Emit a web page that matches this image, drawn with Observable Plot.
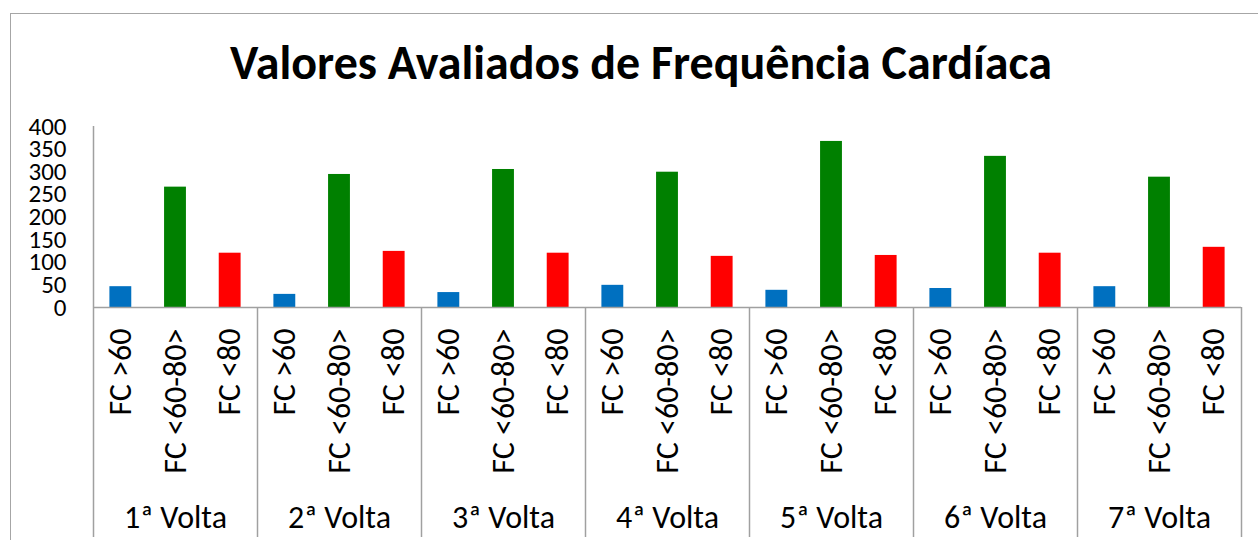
<!DOCTYPE html>
<html><head><meta charset="utf-8">
<script src="https://cdn.jsdelivr.net/npm/d3@7"></script>
<script src="https://cdn.jsdelivr.net/npm/@observablehq/plot@0.6"></script>
<style>
html,body{margin:0;padding:0;background:#fff;}
body{width:1258px;height:540px;overflow:hidden;position:relative;font-family:Carlito,Lato,sans-serif;}
#frame{position:absolute;left:10px;top:13px;width:1400px;height:700px;border-left:1.5px solid #a6a6a6;border-top:1.5px solid #a6a6a6;box-sizing:border-box;}
#title{position:absolute;left:0;width:1282px;top:39px;text-align:center;font-weight:bold;font-size:48px;line-height:48px;color:#000;white-space:nowrap;}
#chart{position:absolute;left:0;top:110px;}
</style>
</head><body>
<div id="frame"></div>
<div id="title">Valores Avaliados de Frequência Cardíaca</div>
<div id="chart"></div>
<script>
const groups = ["1ª Volta", "2ª Volta", "3ª Volta", "4ª Volta", "5ª Volta", "6ª Volta", "7ª Volta"];
const categories = ["FC >60", "FC <60-80>", "FC <80"];
const fcAbove60 = [46, 29, 33, 49, 38, 42, 46];
const fc60to80 = [266, 294, 305, 299, 367, 334, 288];
const fcBelow80 = [120, 124, 120, 113, 115, 120, 133];
const colors = ["#0070C0", "#008000", "#FF0000"];
const yTicks = [0, 50, 100, 150, 200, 250, 300, 350, 400];

const series = [fcAbove60, fc60to80, fcBelow80];
const rows = groups.flatMap((g, i) => categories.map((c, j) => ({group: g, category: c, key: g + "|" + c, value: series[j][i]})));
const keys = rows.map(d => d.key);
const firstKeys = groups.map(g => g + "|" + categories[0]);
const midKeys = groups.map(g => ({group: g, key: g + "|" + categories[1]}));
const lastKey = keys[keys.length - 1];

const W = 1258, H = 430, mL = 93, mR = 17, mT = 16, mB = 3;
const step = (W - mL - mR) / keys.length;
const gray = "#a0a0a0";
const font = "Carlito, Lato, sans-serif";

const chart = Plot.plot({
  width: W, height: H, marginTop: mT, marginBottom: mB, marginLeft: mL, marginRight: mR,
  style: {fontFamily: font, color: "#000", background: "transparent", overflow: "visible"},
  x: {domain: keys, paddingInner: 0.6, paddingOuter: 0.3, round: false, axis: null},
  y: {domain: [0, 400], range: [197, 16], axis: null},
  color: {domain: categories, range: colors},
  marks: [
    Plot.barY(rows, {x: "key", y: "value", fill: "category"}),
    Plot.ruleX([firstKeys[0]], {x: d => d, dx: -step / 2, stroke: gray, strokeWidth: 1.5}),
    Plot.ruleX(firstKeys.slice(1), {x: d => d, dx: -step / 2, insetTop: 181, stroke: gray, strokeWidth: 1.5}),
    Plot.ruleX([lastKey], {x: d => d, dx: step / 2, insetTop: 181, stroke: gray, strokeWidth: 1.5}),
    Plot.ruleY([0], {stroke: gray, strokeWidth: 1.5}),
    Plot.axisY({ticks: yTicks, label: null, tickSize: 0, tickPadding: 27, fontSize: 25, fill: "#000", fontFamily: font}),
    Plot.text(rows, {x: "key", y: 0, dy: 21, text: "category", rotate: -90, textAnchor: "end", lineAnchor: "middle", fontSize: 32, fill: "#000", fontFamily: font}),
    Plot.text(midKeys, {x: "key", y: 0, dy: 210, text: "group", lineAnchor: "middle", fontSize: 32, fill: "#000", fontFamily: font})
  ]
});
document.getElementById("chart").appendChild(chart);
</script>
</body></html>
